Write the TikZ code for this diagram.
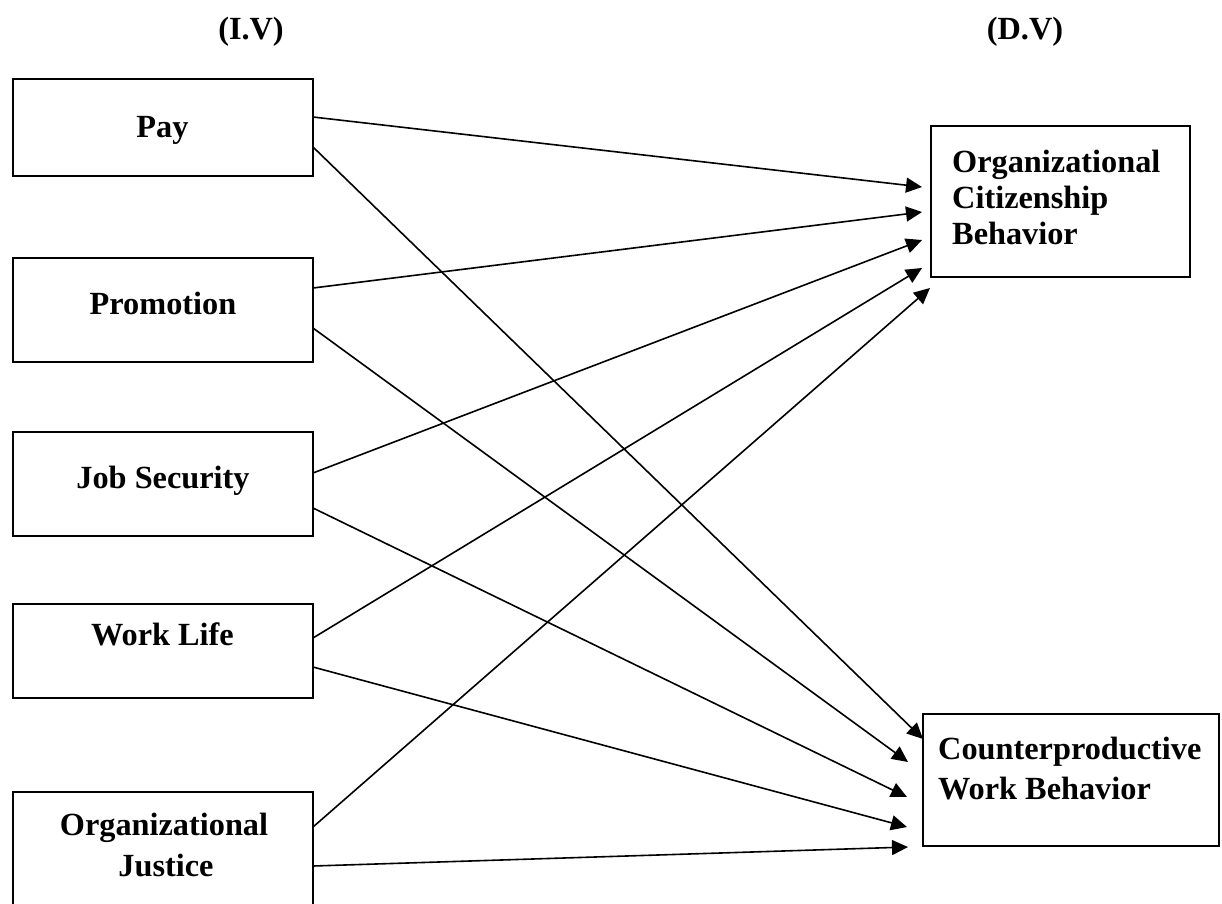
\documentclass[tikz,border=0pt]{standalone}
\usepackage{fontspec}
\setmainfont{Liberation Serif}
\usetikzlibrary{arrows.meta}
\begin{document}
\begin{tikzpicture}[x=1pt,y=-1pt,
  box/.style={draw, line width=1.6pt, inner sep=0pt},
  lbl/.style={font=\fontsize{32.3}{40}\selectfont\bfseries, inner sep=0pt, anchor=base},
  lbll/.style={font=\fontsize{32.3}{40}\selectfont\bfseries, inner sep=0pt, anchor=base west},
  conn/.style={line width=1.6pt, -{Triangle[length=16pt,width=15pt]}}]
\useasboundingbox (0,0) rectangle (1222,903);
% headings
\node[lbl] (iv) at (251,39) {(I.V)};
\node[lbl] (dv) at (1025,39) {(D.V)};
% left boxes
\node[box, minimum width=300pt, minimum height=97pt] (pay) at (163,127.5) {};
\node[box, minimum width=300pt, minimum height=104pt] (promo) at (163,310) {};
\node[box, minimum width=300pt, minimum height=104pt] (js) at (163,484) {};
\node[box, minimum width=300pt, minimum height=94pt] (wl) at (163,651) {};
\node[box, minimum width=300pt, minimum height=128pt] (oj) at (163,856) {};
% right boxes
\node[box, minimum width=259pt, minimum height=151pt] (ocb) at (1060.5,201.5) {};
\node[box, minimum width=296pt, minimum height=132pt] (cwb) at (1071,780) {};
% labels
\node[lbl] (tpay) at (162.5,137) {Pay};
\node[lbl] (tpromo) at (163,314) {Promotion};
\node[lbl] (tjs) at (163,488) {Job Security};
\node[lbl] (twl) at (162.5,645) {Work Life};
\node[lbl] (toj1) at (164,835) {Organizational};
\node[lbl] (toj2) at (166,876) {Justice};
\node[lbll] (tocb1) at (952,172) {Organizational};
\node[lbll] (tocb2) at (952,208) {Citizenship};
\node[lbll] (tocb3) at (952,244) {Behavior};
\node[lbll] (tcwb1) at (938,759) {Counterproductive};
\node[lbll] (tcwb2) at (938,799) {Work Behavior};
% start points
\coordinate (pay1) at (313,117);
\coordinate (pay2) at (313,147);
\coordinate (pro1) at (313,288);
\coordinate (pro2) at (313,328);
\coordinate (js1) at (313,473);
\coordinate (js2) at (313,508);
\coordinate (wl1) at (313,638);
\coordinate (wl2) at (313,667);
\coordinate (oj1) at (313,827);
\coordinate (oj2) at (313,866);
% end points
\coordinate (o1) at (922,187);
\coordinate (o2) at (922,212);
\coordinate (o3) at (922,240);
\coordinate (o4) at (922,268);
\coordinate (o5) at (930,288);
\coordinate (c1) at (923,739);
\coordinate (c2) at (908,762);
\coordinate (c3) at (907,797);
\coordinate (c4) at (907,827);
\coordinate (c5) at (908,847);
% connectors
\draw[conn] (pay1) -- (o1);
\draw[conn] (pro1) -- (o2);
\draw[conn] (js1) -- (o3);
\draw[conn] (wl1) -- (o4);
\draw[conn] (oj1) -- (o5);
\draw[conn] (pay2) -- (c1);
\draw[conn] (pro2) -- (c2);
\draw[conn] (js2) -- (c3);
\draw[conn] (wl2) -- (c4);
\draw[conn] (oj2) -- (c5);
\end{tikzpicture}
\end{document}
